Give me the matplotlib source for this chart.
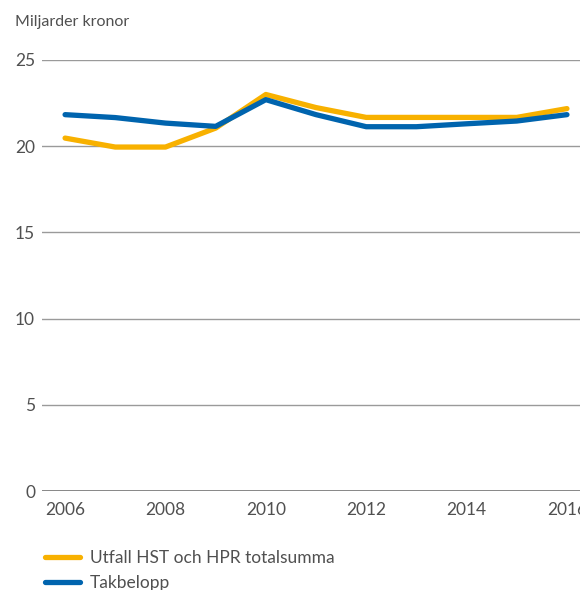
import matplotlib
matplotlib.use('Agg')
import matplotlib.pyplot as plt
from matplotlib.lines import Line2D

plt.rcParams['font.family'] = ['Lato', 'DejaVu Sans']

# data (miljarder kronor)
years = [2006, 2007, 2008, 2009, 2010, 2011, 2012, 2013, 2014, 2015, 2016]
utfall = [20.47, 19.95, 19.95, 21.05, 23.0, 22.24, 21.67, 21.67, 21.67, 21.67, 22.18]
takbelopp = [21.83, 21.66, 21.34, 21.15, 22.7, 21.83, 21.13, 21.13, 21.3, 21.46, 21.83]
yticks = [0, 5, 10, 15, 20, 25]
xticks = [2006, 2008, 2010, 2012, 2014, 2016]
labels = ['Utfall HST och HPR totalsumma', 'Takbelopp']

yellow = '#F8B100'
blue = '#0064AE'
textc = '#505050'

fig = plt.figure(figsize=(5.8, 5.9), dpi=100)
ax = fig.add_axes([42/580, 1 - 491/590, 538/580, 431/590])

ax.plot(years, utfall, color=yellow, lw=3.8, solid_capstyle='round', zorder=3)
ax.plot(years, takbelopp, color=blue, lw=3.8, solid_capstyle='round', zorder=4)

ax.set_xlim(2005.54, 2016.26)
ax.set_ylim(0, 25)
ax.set_yticks(yticks)
ax.set_xticks(xticks)
ax.grid(axis='y', color='#9a9a9a', lw=1.0, zorder=1)
for s in ax.spines.values():
    s.set_visible(False)
ax.axhline(0, color='#777777', lw=1.2, zorder=2)
ax.tick_params(length=0, labelsize=12.5, labelcolor=textc)
ax.tick_params(axis='y', pad=5)
ax.tick_params(axis='x', pad=8)

fig.text(15/580, 1 - 22/590, 'Miljarder kronor', fontsize=11.5, color=textc,
         va='center', ha='left')

handles = [Line2D([], [], color=yellow, lw=3.8, solid_capstyle='round'),
           Line2D([], [], color=blue, lw=3.8, solid_capstyle='round')]
leg = fig.legend(handles, labels, loc='upper left', bbox_to_anchor=(38/580, 1 - 543/590),
                 frameon=False, fontsize=12.5, handlelength=2.0, handletextpad=0.6,
                 labelspacing=0.55, borderaxespad=0)
for t in leg.get_texts():
    t.set_color(textc)

fig.savefig('out.png', dpi=100)
